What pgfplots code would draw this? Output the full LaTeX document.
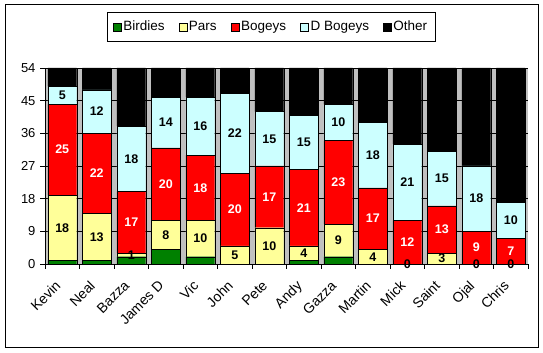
\documentclass[border=0pt]{standalone}
\usepackage{fontspec}
\setmainfont{Liberation Sans}
\usepackage{pgfplots}
\usepackage{pgfplotstable}
\pgfplotsset{compat=1.18}
\definecolor{cBird}{HTML}{008000}
\definecolor{cPar}{HTML}{FFFF99}
\definecolor{cBog}{HTML}{FF0000}
\definecolor{cDB}{HTML}{CCFFFF}
\definecolor{cBack}{HTML}{C0C0C0}
\pgfplotstableread{
X Birdies Pars Bogeys DBogeys Other
0 1 18 25 5 5
1 1 13 22 12 6
2 2 1 17 18 16
3 4 8 20 14 8
4 2 10 18 16 8
5 0 5 20 22 7
6 0 10 17 15 12
7 1 4 21 15 13
8 2 9 23 10 10
9 0 4 17 18 15
10 0 0 12 21 21
11 0 3 13 15 23
12 0 0 9 18 27
13 0 0 7 10 37
}\data
\pgfplotsset{
  common/.style={at={(45pt,89pt)}, anchor=south west,
    scale only axis, width=483pt, height=196pt,
    xmin=-0.5, xmax=13.5, ymin=0, ymax=54},
  lab/.style={draw=none, mark=none, point meta=explicit,
    nodes near coords={\pgfmathprintnumber[assume math mode=true]{\pgfplotspointmeta}},
    every node near coord/.style={font=\bfseries\fontsize{12.5}{14}\selectfont, anchor=center, text=#1}},
}
\begin{document}
\begin{tikzpicture}[x=1pt,y=1pt]
\useasboundingbox (0,0) rectangle (543,353);
\draw[black, line width=1pt] (5,5) rectangle (538,348);
\begin{axis}[
  common,
  ybar stacked, bar width=0.84, bar shift=0pt,
  ytick={0,9,...,54},
  xtick={0,...,13},
  xticklabels={Kevin,Neal,Bazza,James D,Vic,John,Pete,Andy,Gazza,Martin,Mick,Saint,Ojal,Chris},
  minor xtick={-0.5,0.5,...,13.5},
  x tick style={draw=none},
  minor x tick style={draw=black, thin},
  minor tick length=5pt,
  major tick length=5pt,
  tick align=outside,
  tick pos=left,
  ymajorgrids, grid style={black, thin},
  axis background/.style={fill=cBack},
  axis x line*=bottom, axis y line*=left,
  axis line style={black, thin, -},
  y tick style={black, thin},
  /pgf/number format/assume math mode=true,
  yticklabel style={font=\fontsize{13}{15}\selectfont, xshift=-1pt},
  xticklabel style={font=\fontsize{14}{16}\selectfont, xshift=-8pt, yshift=-9pt, rotate=45, anchor=north east, inner sep=1pt},
  legend columns=5,
  legend style={at={(0.468,1.21)}, anchor=center, draw=black, fill=white,
    font=\fontsize{13.5}{15}\selectfont, /tikz/every even column/.append style={column sep=12pt},
    inner xsep=6pt, inner ysep=7pt},
  legend image code/.code={\draw[#1, draw=black] (0pt,-4pt) rectangle (8pt,4pt);},
]
\addplot[fill=cBird, draw=black] table[x=X, y=Birdies] {\data};
\addplot[fill=cPar, draw=black] table[x=X, y=Pars] {\data};
\addplot[fill=cBog, draw=black] table[x=X, y=Bogeys] {\data};
\addplot[fill=cDB, draw=black] table[x=X, y=DBogeys] {\data};
\addplot[fill=black, draw=black] table[x=X, y=Other] {\data};
\legend{Birdies,Pars,Bogeys,D Bogeys,Other}
\end{axis}
\begin{axis}[common, hide axis, clip=false]
\addplot[lab=black] table[x=X, y expr={\thisrow{Birdies}+\thisrow{Pars}/2}, meta=Pars] {\data};
\addplot[lab=white] table[x=X, y expr={\thisrow{Birdies}+\thisrow{Pars}+\thisrow{Bogeys}/2}, meta=Bogeys] {\data};
\addplot[lab=black] table[x=X, y expr={\thisrow{Birdies}+\thisrow{Pars}+\thisrow{Bogeys}+\thisrow{DBogeys}/2}, meta=DBogeys] {\data};
\end{axis}
\end{tikzpicture}
\end{document}
